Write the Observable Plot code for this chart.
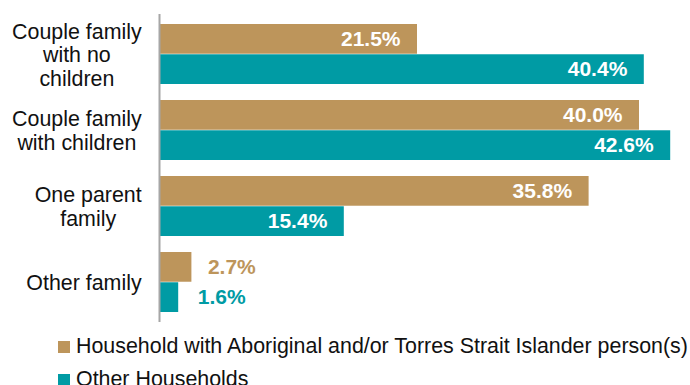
<!DOCTYPE html>
<html>
<head>
<meta charset="utf-8">
<script src="https://cdn.jsdelivr.net/npm/d3@7"></script>
<script src="https://cdn.jsdelivr.net/npm/@observablehq/plot@0.6"></script>
<style>
  body { margin: 0; background: #fff; font-family: "Liberation Sans", Arial, sans-serif; }
  #legend { font-size: 21.4px; color: #111; line-height: 33px; padding-left: 58px; }
  .item { display: flex; align-items: center; white-space: nowrap; height: 33px; }
  .sw { width: 12px; height: 12px; margin-right: 6px; flex: none; }
</style>
</head>
<body>
<div id="chart"></div>
<div id="legend"></div>
<script>
const categories = ["Couple family with no children", "Couple family with children", "One parent family", "Other family"];
const categoryLabels = ["Couple family\nwith no\nchildren", "Couple family\nwith children", "One parent\nfamily", "Other family"];
const series = ["Household with Aboriginal and/or Torres Strait Islander person(s)", "Other Households"];
const aboriginalValues = [21.5, 40.0, 35.8, 2.7];
const otherValues = [40.4, 42.6, 15.4, 1.6];
const colors = ["#BD955B", "#009BA4"];

const data = [];
categories.forEach((c, i) => {
  data.push({category: c, series: series[0], value: aboriginalValues[i]});
  data.push({category: c, series: series[1], value: otherValues[i]});
});

const W = 690, H = 330, mt = 14, mb = 8, ml = 159, mr = 3;
const pIn = 0.21, pOut = 0.115;
const step = (H - mt - mb) / (categories.length - pIn + 2 * pOut);
const bw = step * (1 - pIn);
const half = bw / 2;
const labelMap = new Map(categories.map((c, i) => [c, categoryLabels[i]]));
const threshold = 10;

const A = data.filter(d => d.series === series[0]);
const B = data.filter(d => d.series === series[1]);
const fmt = d => d.value.toFixed(1) + "%";

const chart = Plot.plot({
  width: W, height: H,
  marginTop: mt, marginBottom: mb, marginLeft: ml, marginRight: mr,
  style: {fontFamily: "'Liberation Sans', Arial, sans-serif", background: "#fff"},
  x: {domain: [0, 44], axis: null},
  y: {domain: categories, paddingInner: pIn, paddingOuter: pOut, label: null},
  marks: [
    Plot.barX(A, {x: "value", y: "category", fill: colors[0], insetBottom: half, insetTop: 0}),
    Plot.barX(B, {x: "value", y: "category", fill: colors[1], insetTop: half, insetBottom: 0}),
    Plot.text(A.filter(d => d.value > threshold), {x: "value", y: "category", text: fmt, textAnchor: "end", dx: -17, dy: -half / 2, fill: "#fff", fontWeight: "bold", fontSize: 21}),
    Plot.text(B.filter(d => d.value > threshold), {x: "value", y: "category", text: fmt, textAnchor: "end", dx: -17, dy: half / 2, fill: "#fff", fontWeight: "bold", fontSize: 21}),
    Plot.text(A.filter(d => d.value <= threshold), {x: "value", y: "category", text: fmt, textAnchor: "start", dx: 16, dy: -half / 2, fill: colors[0], fontWeight: "bold", fontSize: 21}),
    Plot.text(B.filter(d => d.value <= threshold), {x: "value", y: "category", text: fmt, textAnchor: "start", dx: 19, dy: half / 2, fill: colors[1], fontWeight: "bold", fontSize: 21}),
    Plot.axisY({tickSize: 0, tickPadding: 18, tickFormat: c => labelMap.get(c), fontSize: 21.4, lineHeight: 1.1, fill: "#111", label: null}),
    Plot.ruleX([0], {stroke: "#A6A6A6", strokeWidth: 2})
  ]
});
document.getElementById("chart").appendChild(chart);

// center the lines of each multi-line category label within its right-aligned block
chart.querySelectorAll('g[aria-label="y-axis tick label"] text').forEach(t => {
  const b = t.getBBox();
  const cx = b.x + b.width / 2;
  t.setAttribute("text-anchor", "middle");
  const spans = t.querySelectorAll("tspan");
  if (spans.length) spans.forEach(s => s.setAttribute("x", cx));
  else t.setAttribute("x", cx);
});

const legend = document.getElementById("legend");
series.forEach((s, i) => {
  const it = document.createElement("div");
  it.className = "item";
  const sw = document.createElement("span");
  sw.className = "sw";
  sw.style.background = colors[i];
  const tx = document.createElement("span");
  tx.textContent = s;
  it.appendChild(sw);
  it.appendChild(tx);
  legend.appendChild(it);
});
</script>
</body>
</html>
